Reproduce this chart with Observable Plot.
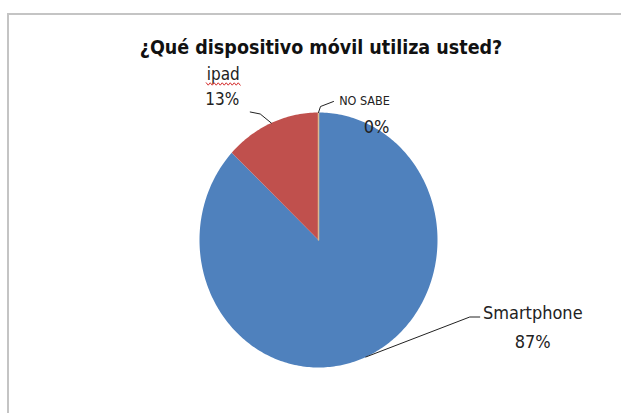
<!DOCTYPE html>
<html>
<head>
<meta charset="utf-8">
<script src="https://cdn.jsdelivr.net/npm/d3@7"></script>
<script src="https://cdn.jsdelivr.net/npm/@observablehq/plot@0.6"></script>
<style>
  html, body { margin: 0; padding: 0; background: #fff; }
  #wrap { position: relative; width: 621px; height: 413px; overflow: hidden; }
  #frame { position: absolute; left: 7px; top: 13px; width: 640px; height: 420px;
           border-left: 2px solid #c4c4c4; border-top: 2px solid #c4c4c4; box-sizing: border-box; pointer-events: none; }
</style>
</head>
<body>
<div id="wrap"><div id="frame"></div></div>
<script>
// ---- data ----
const title = "¿Qué dispositivo móvil utiliza usted?";
const categories = ["Smartphone", "ipad", "NO SABE"];
const values = [87, 13, 0];
const percentLabels = ["87%", "13%", "0%"];
const colors = ["#4F81BD", "#C0504D", "#9BBB59"];

// ---- layout (styles, pixel offsets from each slice's outer mid point) ----
const xRange = [199, 437];
const yRange = [367, 112];
const kx = (xRange[1] - xRange[0]) / 2;
const ky = (yRange[0] - yRange[1]) / 2;
const layout = [
  {leader: [[104, -40], [114, -40]], name: [167, -44, 18], pct: [167, -15, 18]},
  {leader: [[-11, -9], [-21, -11]], name: [-48, -48, 17], pct: [-49, -23, 17]},
  {leader: [[2, -6], [15, -11]], name: [46, -12, 12.5], pct: [58, 15, 18]}
];
// spell-check squiggle under "ipad": x span and y (px offsets from its anchor)
const squiggle = {slice: 1, x0: -65, x1: -31, y: -39, step: 2, amp: 1.2};

const arcs = d3.pie().sort(null).value(d => d)(values);
const font = "'DejaVu Sans Condensed', 'Liberation Sans', sans-serif";

const marks = [];
arcs.forEach((a, i) => {
  const pts = [[0, 0]];
  const n = Math.max(1, Math.ceil((a.endAngle - a.startAngle) / (Math.PI / 180)));
  for (let k = 0; k <= n; k++) {
    const t = a.startAngle + (a.endAngle - a.startAngle) * k / n;
    pts.push([Math.sin(t), Math.cos(t)]);
  }
  pts.push([0, 0]);
  marks.push(Plot.line(pts, {
    x: d => d[0], y: d => d[1], curve: "linear",
    fill: colors[i],
    stroke: values[i] === 0 ? "#dcb890" : "none",
    strokeWidth: 1.5
  }));
});

arcs.forEach((a, i) => {
  const m = (a.startAngle + a.endAngle) / 2;
  const ex = Math.sin(m), ey = Math.cos(m);
  const L = layout[i];
  const leader = [[ex, ey], ...L.leader.map(([dx, dy]) => [ex + dx / kx, ey - dy / ky])];
  marks.push(Plot.line(leader, {x: d => d[0], y: d => d[1], stroke: "#222", strokeWidth: 1}));
  const anchor = [{x: ex, y: ey}];
  marks.push(Plot.text(anchor, {x: "x", y: "y", text: () => categories[i], dx: L.name[0], dy: L.name[1],
    fontSize: L.name[2], fill: "#222", fontFamily: font}));
  marks.push(Plot.text(anchor, {x: "x", y: "y", text: () => percentLabels[i], dx: L.pct[0], dy: L.pct[1],
    fontSize: L.pct[2], fill: "#222", fontFamily: font}));
  if (i === squiggle.slice) {
    const zz = [];
    for (let px = squiggle.x0, k = 0; px <= squiggle.x1; px += squiggle.step, k++) {
      zz.push([ex + px / kx, ey - (squiggle.y + (k % 2 ? squiggle.amp : -squiggle.amp)) / ky]);
    }
    marks.push(Plot.line(zz, {x: d => d[0], y: d => d[1], stroke: "#d42a2a", strokeWidth: 1}));
  }
});

marks.push(Plot.text([title], {frameAnchor: "top", text: d => d, dx: 10, dy: 40,
  fontSize: 19.5, fontWeight: "bold", fill: "#111", fontFamily: font}));

const chart = Plot.plot({
  width: 621, height: 413,
  margin: 0,
  style: {background: "transparent", overflow: "visible"},
  x: {domain: [-1, 1], range: xRange, axis: null},
  y: {domain: [-1, 1], range: yRange, axis: null},
  marks
});

document.getElementById("wrap").prepend(chart);
</script>
</body>
</html>
